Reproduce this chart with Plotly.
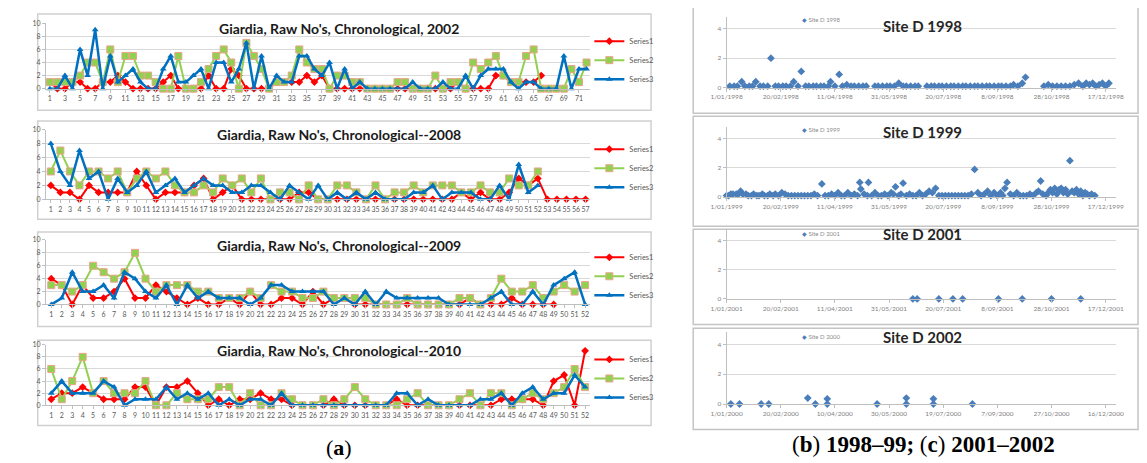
import plotly.graph_objects as go
import pandas as pd

# page is shown with an 8px body margin, so the figure is sized to fit the window
OFF = 8
W, H = 1147 - OFF, 463 - OFF

# ---------------- (a) Giardia weekly raw numbers ----------------
weeks_2002 = list(range(1, 73))
s1_2002 = [1,0,0,1,1,0,0,1,1,2, 1,0,0,0,0,1,2,0,0,0, 0,2,0,0,3,2,0,0,0,0,
           1,1,1,1,2,1,2,0,0,0, 0,0,0,0,0,0,0,0,0,0, 0,0,0,0,1,0,0,0,0,2,
           2,1,1,1,1,2]
s2_2002 = [1,1,1,1,2,4,4,1,6,1, 5,5,2,2,1,0,0,5,0,0, 1,3,5,6,4,0,7,5,3,0,
           1,1,2,6,4,3,3,0,2,2, 1,1,0,0,0,0,1,1,0,0, 0,2,0,1,1,0,4,3,4,5,
           2,1,1,5,6,0,0,0,0,3, 1,4]
s3_2002 = [0,0,2,0,6,2,9,0,5,1, 2,3,1,0,0,3,5,1,1,2, 3,0,4,4,1,3,7,0,5,0,
           2,1,1,5,5,3,2,4,0,3, 0,1,0,0,0,0,0,0,1,0, 0,0,1,0,0,2,0,2,3,3,
           3,1,0,1,1,0,0,0,5,0, 3,3]

weeks_2008 = list(range(1, 58))
s1_2008 = [2,1,1,0,2,1,1,1,1,4, 2,0,1,1,1,2,3,0,1,2, 0,0,0,0,0,0,1,1,0,0,
           0,0,0,0,0,0,0,0,0,0, 0,0,0,1,0,1,0,0,1,3, 2,3,0,0,0,0,0]
s2_2008 = [4,7,4,2,4,4,3,4,1,3, 4,3,4,2,1,1,2,1,3,2, 3,1,3,0,1,1,0,2,0,0,
           2,2,1,0,2,0,1,1,2,1, 2,2,2,1,1,2,1,1,3,2, 2,4]
s3_2008 = [8,4,2,7,3,4,0,3,1,2, 4,1,2,3,1,2,3,2,2,1, 1,2,2,1,0,2,1,0,2,0,
           1,0,1,0,1,0,0,0,1,1, 2,0,1,1,1,0,0,2,0,5, 1,2]

weeks_2009 = list(range(1, 53))
s1_2009 = [4,3,0,3,1,1,2,4,1,1, 3,2,1,0,1,0,0,1,0,2, 0,0,1,1,0,2,0,1,1,0,
           0,0,0,0,0,0,0,0,0,0, 1,0,0,0,1,0,0,0,0]
s2_2009 = [3,3,2,3,6,5,4,5,8,4, 2,3,3,3,2,2,1,1,1,2, 1,3,2,2,1,1,2,1,1,1,
           1,0,0,0,1,0,0,0,0,1, 1,0,1,4,2,2,3,1,2,3, 2,3]
s3_2009 = [0,1,5,2,2,3,1,5,4,2, 1,3,0,3,1,2,1,1,1,0, 1,3,3,2,2,2,2,0,1,0,
           2,0,2,1,1,1,1,1,0,0, 0,0,1,2,0,0,2,0,3,4, 5,0]

weeks_2010 = list(range(1, 53))
s1_2010 = [1,2,2,3,2,1,1,1,3,3, 0,3,3,4,2,0,1,0,1,1, 2,1,1,0,0,0,0,1,0,0,
           0,0,0,1,0,0,0,0,0,0, 0,0,0,1,1,1,1,0,4,5, 0,9]
s2_2010 = [6,1,4,8,2,4,2,2,2,4, 0,0,2,1,1,1,3,3,0,2, 0,0,2,1,0,0,1,0,1,3,
           1,0,0,0,1,2,0,0,0,1, 2,0,2,2,0,1,2,1,2,3, 6,3]
s3_2010 = [2,4,2,2,2,4,3,0,1,1, 1,3,1,2,1,2,0,1,0,1, 1,0,2,0,0,0,0,0,0,0,
           0,0,0,2,2,0,1,0,0,0, 0,1,1,2,0,2,3,1,2,2, 5,3]

titles_a = ["Giardia, Raw No's, Chronological, 2002",
            "Giardia, Raw No's, Chronological--2008",
            "Giardia, Raw No's, Chronological--2009",
            "Giardia, Raw No's, Chronological--2010"]
series_names = ["Series1", "Series2", "Series3"]

# ---------------- (b),(c) Site D scatter (day of year, value) ----------------
d1998_days = [4, 8, 11, 15, 18, 22, 25, 28, 32, 35,
              39, 42, 46, 49, 53, 56, 60, 63, 67, 70,
              74, 77, 81, 84, 88, 91, 95, 97, 101, 105,
              108, 112, 116, 119, 123, 127, 130, 138, 141, 145,
              149, 152, 156, 160, 164, 167, 171, 175, 178, 186,
              190, 193, 197, 200, 204, 208, 211, 215, 219, 222,
              226, 230, 233, 237, 241, 244, 248, 252, 255, 259,
              263, 266, 270, 274, 277, 294, 298, 302, 306, 310,
              314, 318, 322, 326, 330, 333, 336, 339, 342, 345,
              348, 351, 354]
d1998_vals = [0.1, 0.1, 0.1, 0.4, 0.1, 0.1, 0.1, 0.4, 0.1, 0.1,
              0.1, 2.0, 0.1, 0.1, 0.1, 0.1, 0.1, 0.4, 0.1, 1.1,
              0.1, 0.1, 0.1, 0.1, 0.1, 0.1, 0.1, 0.4, 0.1, 0.9,
              0.1, 0.2, 0.1, 0.1, 0.1, 0.1, 0.1, 0.1, 0.1, 0.1,
              0.1, 0.1, 0.1, 0.3, 0.1, 0.1, 0.1, 0.1, 0.1, 0.1,
              0.1, 0.1, 0.1, 0.1, 0.1, 0.1, 0.1, 0.1, 0.1, 0.1,
              0.1, 0.1, 0.1, 0.1, 0.1, 0.1, 0.1, 0.1, 0.1, 0.1,
              0.1, 0.2, 0.1, 0.3, 0.7, 0.1, 0.2, 0.1, 0.1, 0.1,
              0.1, 0.1, 0.2, 0.3, 0.1, 0.3, 0.2, 0.3, 0.1, 0.2,
              0.3, 0.1, 0.3]

d1999_days = [1, 3, 5, 7, 10, 12, 14, 16, 19, 21,
              24, 26, 29, 31, 34, 36, 39, 41, 44, 46,
              49, 52, 55, 58, 61, 64, 67, 70, 73, 76,
              79, 82, 85, 89, 92, 95, 98, 101, 104, 107,
              110, 113, 116, 119, 122, 124, 125, 128, 131, 132,
              135, 138, 141, 144, 147, 150, 153, 155, 157, 160,
              162, 164, 167, 170, 173, 176, 179, 182, 185, 188,
              191, 194, 197, 200, 203, 206, 209, 212, 215, 218,
              221, 224, 227, 230, 233, 236, 239, 242, 245, 248,
              251, 254, 256, 258, 260, 263, 266, 269, 272, 275,
              278, 281, 284, 287, 289, 291, 293, 296, 298, 300,
              302, 304, 306, 308, 310, 312, 314, 316, 318, 320,
              322, 324, 326, 328, 330, 332, 334, 336, 338, 341]
d1999_vals = [0.1, 0.1, 0.2, 0.2, 0.2, 0.2, 0.4, 0.2, 0.2, 0.1,
              0.1, 0.2, 0.1, 0.1, 0.2, 0.1, 0.1, 0.2, 0.1, 0.2,
              0.1, 0.3, 0.2, 0.1, 0.1, 0.1, 0.1, 0.1, 0.1, 0.1,
              0.1, 0.2, 0.1, 0.9, 0.1, 0.1, 0.2, 0.1, 0.3, 0.1,
              0.1, 0.3, 0.1, 0.2, 0.1, 1.0, 0.55, 0.2, 0.1, 1.0,
              0.1, 0.3, 0.1, 0.1, 0.2, 0.1, 0.3, 0.2, 0.7, 0.1,
              0.2, 0.95, 0.1, 0.2, 0.1, 0.1, 0.3, 0.1, 0.2, 0.4,
              0.3, 0.6, 0.1, 0.1, 0.1, 0.1, 0.1, 0.1, 0.1, 0.1,
              0.1, 0.1, 0.2, 1.9, 0.3, 0.1, 0.2, 0.4, 0.1, 0.3,
              0.1, 0.3, 0.1, 0.6, 1.0, 0.2, 0.1, 0.3, 0.1, 0.1,
              0.1, 0.2, 0.1, 0.3, 0.4, 1.1, 0.2, 0.1, 0.3, 0.5,
              0.3, 0.6, 0.2, 0.5, 0.6, 0.3, 0.5, 0.2, 2.5, 0.4,
              0.3, 0.5, 0.2, 0.4, 0.1, 0.3, 0.2, 0.1, 0.2, 0.1]

d2001_days = [173, 177, 197, 210, 219, 252, 274, 301, 328]
d2001_vals = [0, 0, 0, 0, 0, 0, 0, 0, 0]

d2000_days = [5, 13, 33, 40, 76, 83, 94, 94, 140, 167, 167, 192, 192, 228]
d2000_vals = [0, 0, 0, 0, 0.4, 0, 0.35, 0, 0, 0.4, 0, 0.35, 0, 0]

ticks_1998 = ["1/01/1998", "20/02/1998", "11/04/1998", "31/05/1998", "20/07/1998", "8/09/1998", "28/10/1998", "17/12/1998"]
ticks_1999 = ["1/01/1999", "20/02/1999", "11/04/1999", "31/05/1999", "20/07/1999", "8/09/1999", "28/10/1999", "17/12/1999"]
ticks_2001 = ["1/01/2001", "20/02/2001", "11/04/2001", "31/05/2001", "20/07/2001", "8/09/2001", "28/10/2001", "17/12/2001"]
ticks_2000 = ["1/01/2000", "20/02/2000", "10/04/2000", "30/05/2000", "19/07/2000", "7/09/2000", "27/10/2000", "16/12/2000"]

assert len(d1998_days) == len(d1998_vals)
assert len(d1999_days) == len(d1999_vals)
assert len(d2000_days) == len(d2000_vals)

# ---------------- helpers (window pixel -> paper fraction) ----------------
def fx(px):
    return (px - OFF) / W

def fy(py):
    return 1 - (py - OFF) / H

FONT = "Lato"
GRID = "#d9d9d9"
AXL = "#bfbfbf"
TXT = "#595959"

fig = go.Figure()
layout = dict(width=W, height=H, autosize=False, margin=dict(l=0, r=0, t=0, b=0),
              paper_bgcolor="white", plot_bgcolor="white", font=dict(family=FONT),
              shapes=[], annotations=[])

left_panels = [
    dict(weeks=weeks_2002, s=(s1_2002, s2_2002, s3_2002), y0=85.0, y10=18.5, box=(22, 9, 648, 107),
         ty=24, ly=56, tickv=list(range(1, 72, 2))),
    dict(weeks=weeks_2008, s=(s1_2008, s2_2008, s3_2008), y0=197.7, y10=126.7, box=(22, 118, 648, 218),
         ty=132, ly=166, tickv=weeks_2008),
    dict(weeks=weeks_2009, s=(s1_2009, s2_2009, s3_2009), y0=304.7, y10=239.0, box=(22, 231, 648, 327),
         ty=245, ly=276, tickv=weeks_2009),
    dict(weeks=weeks_2010, s=(s1_2010, s2_2010, s3_2010), y0=407.3, y10=345.7, box=(22, 341, 648, 428),
         ty=352, ly=380, tickv=weeks_2010),
]

styles = [
    dict(line=dict(color="#ff0000", width=2), marker=dict(symbol="diamond", size=6, color="#ff0000")),
    dict(line=dict(color="#92d050", width=2), marker=dict(symbol="square", size=7, color="#92d050",
                                                          line=dict(color="#e8a48a", width=1))),
    dict(line=dict(color="#0070c0", width=2.5), marker=dict(symbol="triangle-up", size=6, color="#0070c0")),
]

PX0, PX1 = 30.5, 586.0
for k, p in enumerate(left_panels, start=1):
    sfx = "" if k == 1 else str(k)
    leg = "legend" if k == 1 else f"legend{k}"
    n = len(p["weeks"])
    for j, vals in enumerate(p["s"]):
        fig.add_trace(go.Scatter(x=p["weeks"][:len(vals)], y=vals, mode="lines+markers",
                                 name=series_names[j], xaxis=f"x{sfx}", yaxis=f"y{sfx}",
                                 legend=leg, cliponaxis=False, **styles[j]))
    layout[f"xaxis{sfx}"] = dict(domain=[fx(PX0), fx(PX1)], anchor=f"y{sfx}", range=[0.5, n + 0.5],
                                 tickmode="array", tickvals=p["tickv"], ticktext=[str(v) for v in p["tickv"]],
                                 tickfont=dict(size=7, color=TXT), showgrid=False, zeroline=False,
                                 showline=True, linecolor=AXL, linewidth=1, ticks="outside", ticklen=3,
                                 tickcolor=AXL, tickangle=0, fixedrange=True)
    layout[f"yaxis{sfx}"] = dict(domain=[fy(p["y0"]), fy(p["y10"])], anchor=f"x{sfx}", range=[0, 10],
                                 tickmode="array", tickvals=[0, 2, 4, 6, 8, 10],
                                 tickfont=dict(size=7, color=TXT), gridcolor=GRID, gridwidth=1,
                                 zeroline=False, showline=True, linecolor=AXL, linewidth=1,
                                 ticks="outside", ticklen=3, tickcolor=AXL)
    layout[leg] = dict(x=fx(585), y=fy(p["ly"]), xanchor="left", yanchor="middle",
                       font=dict(size=7.5, color=TXT, family=FONT), bgcolor="rgba(0,0,0,0)",
                       tracegroupgap=0, itemwidth=30, borderwidth=0)
    x0, y0b, x1, y1b = p["box"]
    layout["shapes"].append(dict(type="rect", xref="paper", yref="paper", x0=fx(x0), x1=fx(x1),
                                 y0=fy(y1b), y1=fy(y0b), line=dict(color="#d0d0d0", width=1.5),
                                 layer="below"))
    layout["annotations"].append(dict(text=f"<b>{titles_a[k-1]}</b>", xref="paper", yref="paper",
                                      x=fx(330), y=fy(p["ty"]), xanchor="center", yanchor="middle",
                                      showarrow=False, font=dict(size=14, color="#1a1a1a", family=FONT)))

# ---------------- right panels ----------------
right_panels = [
    dict(year=1998, days=d1998_days, vals=d1998_vals, ticks=ticks_1998, title="Site D 1998",
         leg="Site D 1998", y0=84.0, unit=15.0, box=(691, 2, 1145, 110), ty=21, ly=15, end="1998-12-27"),
    dict(year=1999, days=d1999_days, vals=d1999_vals, ticks=ticks_1999, title="Site D 1999",
         leg="Site D 1999", y0=195.3, unit=14.8, box=(691, 113, 1145, 225), ty=129, ly=127, end="1999-12-27"),
    dict(year=2001, days=d2001_days, vals=d2001_vals, ticks=ticks_2001, title="Site D 2001",
         leg="Site D 2001", y0=299.0, unit=14.75, box=(691, 228, 1145, 325), ty=233, ly=232, end="2001-12-27"),
    dict(year=2000, days=d2000_days, vals=d2000_vals, ticks=ticks_2000, title="Site D 2002",
         leg="Site D 2000", y0=406.0, unit=15.2, box=(691, 329, 1145, 432), ty=338, ly=337, end="2000-12-26"),
]

BLUE = "#4a7ebb"
RX0, RX1 = 725.0, 1123.0
YMAX = 4.8
for i, p in enumerate(right_panels):
    k = 5 + i
    dates = [pd.Timestamp(p["year"], 1, 1) + pd.Timedelta(days=d - 1) for d in p["days"]]
    fig.add_trace(go.Scatter(x=dates, y=p["vals"], mode="markers", name=p["leg"],
                             xaxis=f"x{k}", yaxis=f"y{k}", showlegend=False, cliponaxis=False,
                             marker=dict(symbol="diamond", size=6, color=BLUE)))
    tv = pd.to_datetime(p["ticks"], dayfirst=True)
    layout[f"xaxis{k}"] = dict(domain=[fx(RX0), fx(RX1)], anchor=f"y{k}", type="date",
                               range=[f"{p['year']}-01-01", p["end"]], tickmode="array",
                               tickvals=list(tv), ticktext=p["ticks"], tickfont=dict(size=6.5, color="#7f7f7f"),
                               showgrid=False, zeroline=False, showline=True, linecolor=AXL,
                               ticks="outside", ticklen=3, tickcolor=AXL, tickangle=0)
    top = p["y0"] - YMAX * p["unit"]
    layout[f"yaxis{k}"] = dict(domain=[fy(p["y0"]), fy(top)], anchor=f"x{k}", range=[0, YMAX],
                               tickmode="array", tickvals=[0, 2, 4], tickfont=dict(size=6.5, color="#7f7f7f"),
                               gridcolor=GRID, zeroline=False, showline=True, linecolor=AXL,
                               ticks="outside", ticklen=3, tickcolor=AXL)
    x0, y0b, x1, y1b = p["box"]
    layout["shapes"].append(dict(type="rect", xref="paper", yref="paper", x0=fx(x0), x1=fx(x1),
                                 y0=fy(y1b), y1=fy(y0b), line=dict(color="#c4c4c4", width=1.5),
                                 layer="below"))
    layout["annotations"].append(dict(text=f"<b>{p['title']}</b>", xref="paper", yref="paper",
                                      x=fx(925), y=fy(p["ty"]), xanchor="center", yanchor="middle",
                                      showarrow=False, font=dict(size=15, color="#262626", family=FONT)))
    layout["annotations"].append(dict(text=f"<span style='color:{BLUE}'>◆</span> {p['leg']}",
                                      xref="paper", yref="paper", x=fx(800), y=fy(p["ly"]),
                                      xanchor="left", yanchor="middle", showarrow=False,
                                      font=dict(size=6, color="#8c8c8c", family=FONT)))

# ---------------- captions ----------------
layout["annotations"].append(dict(text="(<b>a</b>)", xref="paper", yref="paper", x=fx(330), y=fy(450),
                                  xanchor="center", yanchor="middle", showarrow=False,
                                  font=dict(size=22, color="black", family="Liberation Serif")))
layout["annotations"].append(dict(text="(<b>b</b>) <b>1998–99;</b> (<b>c</b>) <b>2001–2002</b>",
                                  xref="paper", yref="paper", x=fx(926), y=fy(447),
                                  xanchor="center", yanchor="middle", showarrow=False,
                                  font=dict(size=23, color="black", family="Liberation Serif")))

fig.update_layout(**layout)
fig.write_html("out.html")
